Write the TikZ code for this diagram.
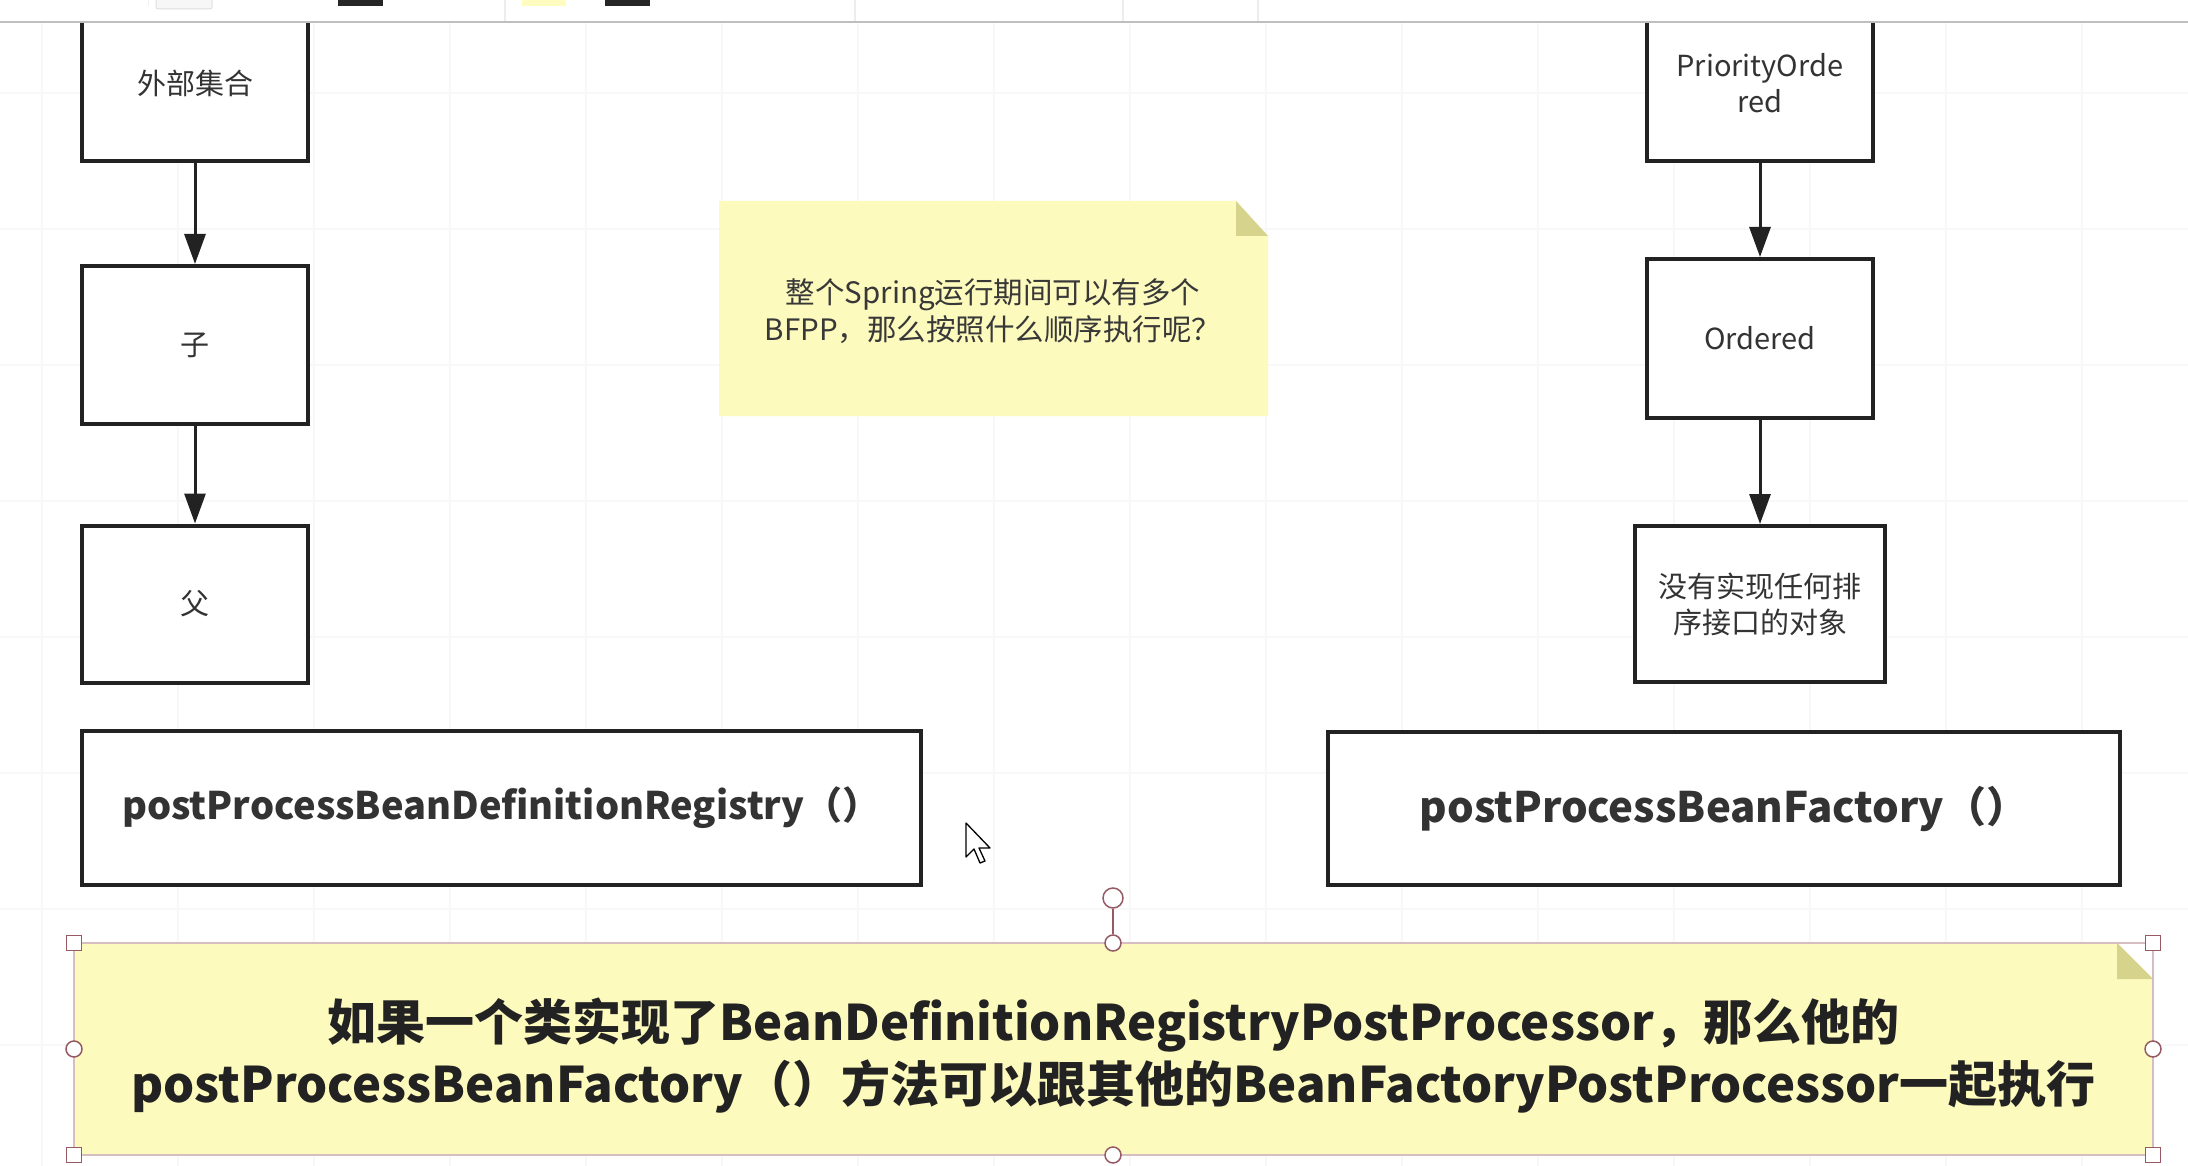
\documentclass[tikz,border=0pt]{standalone}
\usepackage{fontspec}
\setmainfont{Noto Sans CJK SC}
\usetikzlibrary{arrows.meta}
\definecolor{notefill}{RGB}{253,250,190}
\definecolor{notefold}{RGB}{214,211,140}
\definecolor{ink}{RGB}{34,34,34}
\definecolor{txt}{RGB}{51,51,51}
\definecolor{handlec}{RGB}{150,90,100}
\definecolor{gridc}{RGB}{248,248,248}
\begin{document}
\begin{tikzpicture}[x=1pt,y=-1pt,
  box/.style={draw=ink, line width=4pt, fill=white, rectangle, inner sep=0pt, align=center, text=txt, font=\fontsize{29}{36}\selectfont},
  widebox/.style={box, font=\fontsize{42}{50}\selectfont\bfseries},
  arr/.style={draw=ink, line width=3pt, -{Triangle[length=30pt,width=21pt]}},
  notetext/.style={align=center, text=txt, inner sep=0pt},
  sqh/.style={draw=handlec, fill=white, line width=1.5pt, rectangle, minimum size=15pt, inner sep=0pt},
  cih/.style={draw=handlec, fill=white, line width=1.5pt, circle, minimum size=16pt, inner sep=0pt}]
\useasboundingbox (0,0) rectangle (2188,1166);
\fill[white] (0,0) rectangle (2188,1166);
% faint grid
\foreach \gx in {42,178,...,2180} \draw[gridc, line width=1.5pt] (\gx,22) -- (\gx,1166);
\foreach \gy in {93,229,...,1166} \draw[gridc, line width=1.5pt] (0,\gy) -- (2188,\gy);

% left column
\node[box, minimum width=226pt, minimum height=155pt] (ext) at (195,83.5) {外部集合};
\node[box, minimum width=226pt, minimum height=158pt] (zi) at (195,345) {子};
\node[box, minimum width=226pt, minimum height=157pt] (fu) at (195,604) {父};
\draw[arr] (ext) -- (zi);
\draw[arr] (zi) -- (fu);

% right column
\node[box, minimum width=226pt, minimum height=155pt] (po) at (1760,83.5) {PriorityOrde\\red};
\node[box, minimum width=226pt, minimum height=159pt] (ord) at (1760,338.5) {Ordered};
\node[box, minimum width=250pt, minimum height=156pt] (none) at (1760,604) {没有实现任何排\\序接口的对象};
\draw[arr] (po) -- (ord);
\draw[arr] (ord) -- (none);

% wide boxes
\node[widebox, minimum width=839pt, minimum height=154pt, font=\fontsize{38}{46}\selectfont\bfseries] (reg) at (501.5,808) {postProcessBeanDefinitionRegistry（）};
\node[widebox, minimum width=792pt, minimum height=153pt] (fac) at (1724,808.5) {postProcessBeanFactory（）};

% small note
\fill[notefill] (719,201) -- (1236,201) -- (1268,236) -- (1268,416) -- (719,416) -- cycle;
\fill[notefold] (1236,201) -- (1236,236) -- (1268,236) -- cycle;
\node[notetext, text=ink!90, font=\fontsize{29.5}{37}\selectfont] (q) at (993,311) {整个Spring运行期间可以有多个\\BFPP，那么按照什么顺序执行呢？};

% bottom note
\fill[notefill] (74,943) -- (2117,943) -- (2153,979) -- (2153,1155) -- (74,1155) -- cycle;
\fill[notefold] (2117,943) -- (2117,979) -- (2153,979) -- cycle;
\draw[handlec!40, line width=1.5pt] (74,943) -- (2153,943) -- (2153,1155) -- (74,1155) -- cycle;
\node[notetext, text=ink, font=\fontsize{49}{62}\selectfont\bfseries] (msg) at (1113.5,1056) {如果一个类实现了BeanDefinitionRegistryPostProcessor，那么他的\\postProcessBeanFactory（）方法可以跟其他的BeanFactoryPostProcessor一起执行};

% selection handles
\node[cih, minimum size=20pt] (rot) at (1113,898) {};
\node[cih] (ht) at (1113,943) {};
\draw[handlec, line width=1.5pt] (rot) -- (ht);
\node[cih] (hb) at (1113,1155) {};
\node[cih] (hl) at (74,1049) {};
\node[cih] (hr) at (2153,1049) {};
\node[sqh] (h1) at (74,943) {};
\node[sqh] (h2) at (2153,943) {};
\node[sqh] (h3) at (74,1155) {};
\node[sqh] (h4) at (2153,1155) {};

% mouse cursor
\draw[black, fill=white, line width=1.3pt, line join=round] (966,823) -- ++(0,34) -- ++(8,-8) -- ++(6,14) -- ++(5,-2) -- ++(-6,-13) -- ++(11,0) -- cycle;

% toolbar strip
\fill[white] (0,0) rectangle (2188,21);
\foreach \sx in {505,855,1123,1258} \draw[black!7, line width=1.5pt] (\sx,0) -- (\sx,21);
\draw[black!6, line width=1pt] (148,0) -- (148,6);
\draw[gray!25, fill=gray!6, line width=1pt, rounded corners=2pt] (156,-4) rectangle (212,9);
\fill[black!85] (338,0) rectangle (383,6);
\fill[yellow!25] (522,0) rectangle (566,6);
\fill[black!85] (605,0) rectangle (650,6);
\draw[gray!50, line width=2.5pt] (0,22) -- (2188,22);
\end{tikzpicture}
\end{document}
